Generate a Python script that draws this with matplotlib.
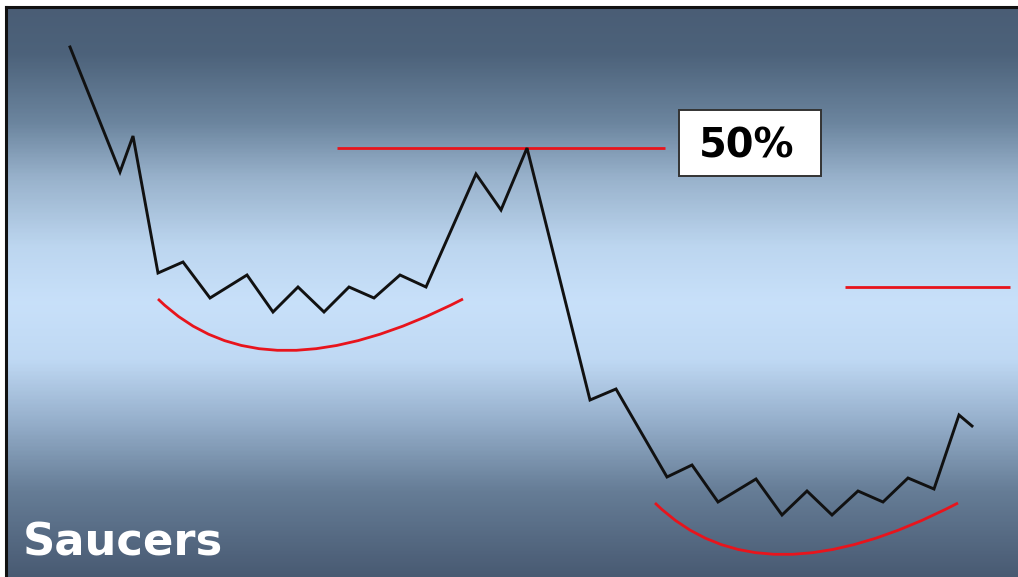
import numpy as np
import matplotlib
matplotlib.use("Agg")
import matplotlib.pyplot as plt
from matplotlib.colors import LinearSegmentedColormap
from matplotlib.path import Path
from matplotlib.patches import PathPatch, Rectangle

# ---- data (schematic chart units, y grows downward) ----
price_x = [70, 120, 133, 158, 183, 210, 247, 273, 298, 324, 349, 374, 400, 426,
           476, 501, 527, 590, 616, 667, 692, 718, 756, 782, 807, 832, 858, 883,
           908, 934, 959, 972]
price_y = [47, 172, 136, 273, 262, 298, 275, 312, 287, 312, 287, 298, 275, 287,
           174, 210, 148, 400, 389, 477, 465, 502, 479, 515, 491, 515, 491, 502,
           478, 489, 415, 426]

# saucer curves: start, control, end (quadratic Bezier)
saucer1_x = [158, 263, 463]
saucer1_y = [299, 402, 299]
saucer2_x = [655, 760, 958]
saucer2_y = [503, 606, 503]

# horizontal red levels: (x start, x end, level)
level_x0 = [337, 845]
level_x1 = [665, 1010]
level_y = [148, 287]

label_pct = "50%"
title_text = "Saucers"

# ---- figure ----
W, H = 1018, 577
fig = plt.figure(figsize=(W / 100, H / 100), dpi=100)
fig.patch.set_facecolor("white")
ax = fig.add_axes([6 / W, 0, (W - 6) / W, (H - 7) / H])
ax.set_xlim(6, W)
ax.set_ylim(H, 7)
ax.set_xticks([])
ax.set_yticks([])
for s in ["right", "bottom"]:
    ax.spines[s].set_visible(False)
for s in ["left", "top"]:
    ax.spines[s].set_color("#111111")
    ax.spines[s].set_linewidth(2.2)

# background vertical gradient
stops = [(0.00, (0.290, 0.365, 0.460)),
         (0.08, (0.300, 0.385, 0.480)),
         (0.20, (0.420, 0.520, 0.620)),
         (0.30, (0.600, 0.700, 0.800)),
         (0.42, (0.740, 0.840, 0.940)),
         (0.52, (0.785, 0.880, 0.980)),
         (0.62, (0.750, 0.850, 0.955)),
         (0.72, (0.600, 0.700, 0.810)),
         (0.85, (0.400, 0.490, 0.590)),
         (1.00, (0.285, 0.355, 0.450))]
cmap = LinearSegmentedColormap.from_list("bg", stops)
grad = np.linspace(0, 1, 400).reshape(-1, 1)
ax.imshow(grad, cmap=cmap, aspect="auto", extent=(6, W, H, 7), zorder=0,
          interpolation="bilinear")

# price path
ax.plot(price_x, price_y, color="#111111", lw=2.1, solid_joinstyle="miter", zorder=3)

red = "#e8141c"
# saucers
for sx, sy in [(saucer1_x, saucer1_y), (saucer2_x, saucer2_y)]:
    verts = list(zip(sx, sy))
    path = Path(verts, [Path.MOVETO, Path.CURVE3, Path.CURVE3])
    ax.add_patch(PathPatch(path, facecolor="none", edgecolor=red, lw=2.0, zorder=2))

# levels
ax.hlines(level_y, level_x0, level_x1, colors=red, lw=2.0, zorder=2)

# 50% label box
ax.add_patch(Rectangle((679, 110), 142, 66, facecolor="white", edgecolor="#333333",
                       lw=1.4, zorder=4))
ax.text(747, 157, label_pct, fontsize=28.8, fontweight="bold", family="DejaVu Sans",
        color="black", ha="center", va="baseline", zorder=5)

# title
ax.text(23, 555, title_text, fontsize=32.3, fontweight="bold", family="DejaVu Sans",
        color="white", ha="left", va="baseline", zorder=5)

fig.savefig("out.png", dpi=100)
